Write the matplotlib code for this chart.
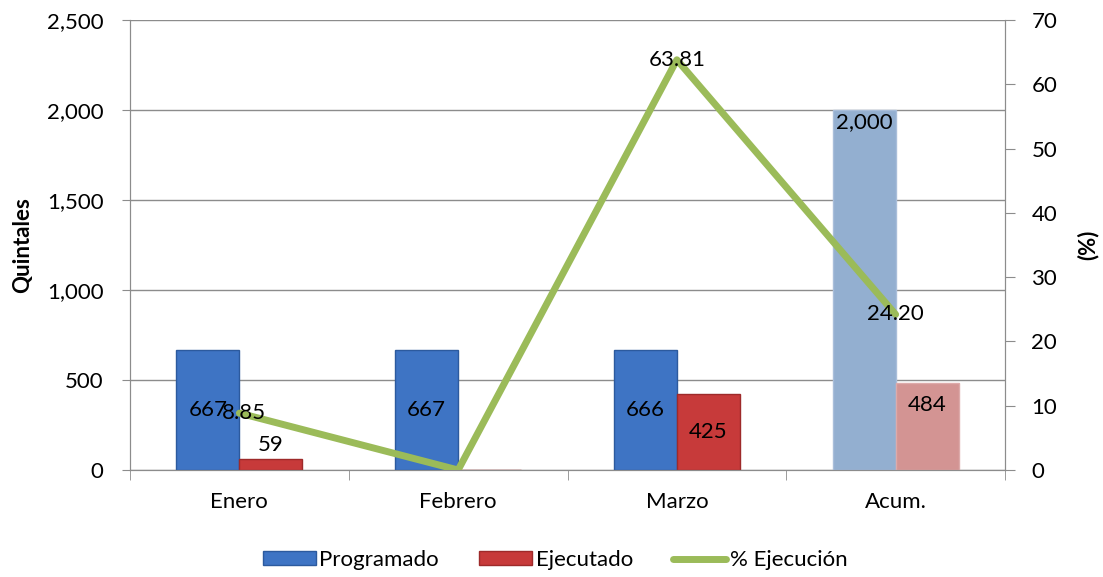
import matplotlib
matplotlib.use("Agg")
import matplotlib.pyplot as plt
import numpy as np
from matplotlib.patches import Patch
from matplotlib.lines import Line2D

categories = ["Enero", "Febrero", "Marzo", "Acum."]
programado = [667, 667, 666, 2000]
ejecutado = [59, 0, 425, 484]
pct_ejec = [8.85, 0.0, 63.81, 24.20]
prog_labels = ["667", "667", "666", "2,000"]
ejec_labels = ["59", "-", "425", "484"]
pct_labels = ["8.85", "", "63.81", "24.20"]

plt.rcParams['font.family'] = ['Lato', 'DejaVu Sans']
FS = 16

fig = plt.figure(figsize=(11.03, 5.77), dpi=100)
ax = fig.add_axes([130/1103, 1-470/577, 875/1103, 450/577])
ax2 = ax.twinx()

x = np.arange(len(categories))
w = 0.288
prog_colors = ["#3E74C4", "#3E74C4", "#3E74C4", "#93AFD0"]
prog_edges = ["#2C5A9E", "#2C5A9E", "#2C5A9E", "#A9BEDA"]
ejec_colors = ["#C73A3A", "#C73A3A", "#C73A3A", "#D39493"]
ejec_edges = ["#9E2A2A", "#9E2A2A", "#9E2A2A", "#DDAAAA"]

ax.bar(x - w/2, programado, width=w, color=prog_colors, edgecolor=prog_edges, linewidth=1, zorder=3)
ax.bar(x + w/2, ejecutado, width=w, color=ejec_colors, edgecolor=ejec_edges, linewidth=1, zorder=3)

ax.set_xlim(-0.5, 3.5)
ax.set_ylim(0, 2500)
ax.set_yticks(np.arange(0, 2501, 500))
ax.set_yticklabels([f"{v:,}" for v in range(0, 2501, 500)])
ax.grid(axis='y', color='#8C8C8C', linewidth=1, zorder=0)
ax.set_axisbelow(True)

ax.set_xticks(x)
ax.set_xticklabels(categories)
ax.set_xticks(np.arange(-0.5, 4.0, 1.0), minor=True)
ax.tick_params(axis='x', which='major', length=0, pad=16, labelsize=FS)
ax.tick_params(axis='x', which='minor', length=7, color='#8C8C8C', direction='out')
ax.tick_params(axis='y', length=6, color='#8C8C8C', labelsize=FS, pad=13)

for s in ['left', 'right', 'bottom', 'top']:
    ax.spines[s].set_color('#8C8C8C')
ax.spines['top'].set_visible(False)
ax2.spines['top'].set_visible(False)
for s in ['left', 'right', 'bottom']:
    ax2.spines[s].set_color('#8C8C8C')

ax.set_ylabel("Quintales", fontsize=FS, fontweight='bold', labelpad=10)

# bar labels (offsets in data units)
prog_y = [programado[0]/2, programado[1]/2, programado[2]/2, programado[3] - 67]
for i, (yy, lab) in enumerate(zip(prog_y, prog_labels)):
    ax.text(x[i] - w/2, yy, lab, ha='center', va='center', fontsize=FS, zorder=5)

ejec_y = [ejecutado[0] + 80, ejecutado[1] + 10, ejecutado[2]/2, ejecutado[3] - 123]
for i, (yy, lab) in enumerate(zip(ejec_y, ejec_labels)):
    if i == 1:
        ax.text(x[i], yy, lab, ha='center', va='center', fontsize=10, zorder=5)
    else:
        ax.text(x[i] + w/2, yy, lab, ha='center', va='center', fontsize=FS, zorder=5)

ax2.plot(x, pct_ejec, color='#9BBB59', linewidth=5, solid_capstyle='round', zorder=4, label='% Ejecución')
ax2.set_ylim(0, 70)
ax2.set_yticks(np.arange(0, 71, 10))
ax2.tick_params(axis='y', length=7, color='#8C8C8C', labelsize=FS, pad=12)
ax2.set_ylabel("(%)", fontsize=FS, fontweight='bold', labelpad=14)

pct_dx = [0.02, 0, 0, 0]
for i, (v, lab) in enumerate(zip(pct_ejec, pct_labels)):
    if lab:
        ax2.text(x[i] + pct_dx[i], v, lab, ha='center', va='center', fontsize=FS, zorder=6)

handles = [Patch(facecolor="#3E74C4", edgecolor="#2C5A9E", label="Programado"),
           Patch(facecolor="#C73A3A", edgecolor="#9E2A2A", label="Ejecutado"),
           Line2D([0], [0], color='#9BBB59', linewidth=5, solid_capstyle='round', label='% Ejecución')]
fig.legend(handles=handles, loc='center', bbox_to_anchor=(555/1103, 1-560/577), ncol=3,
           frameon=False, fontsize=FS, handlelength=2.4, handleheight=0.6, columnspacing=1.8, handletextpad=0.15)

fig.savefig("out.png", dpi=100)
